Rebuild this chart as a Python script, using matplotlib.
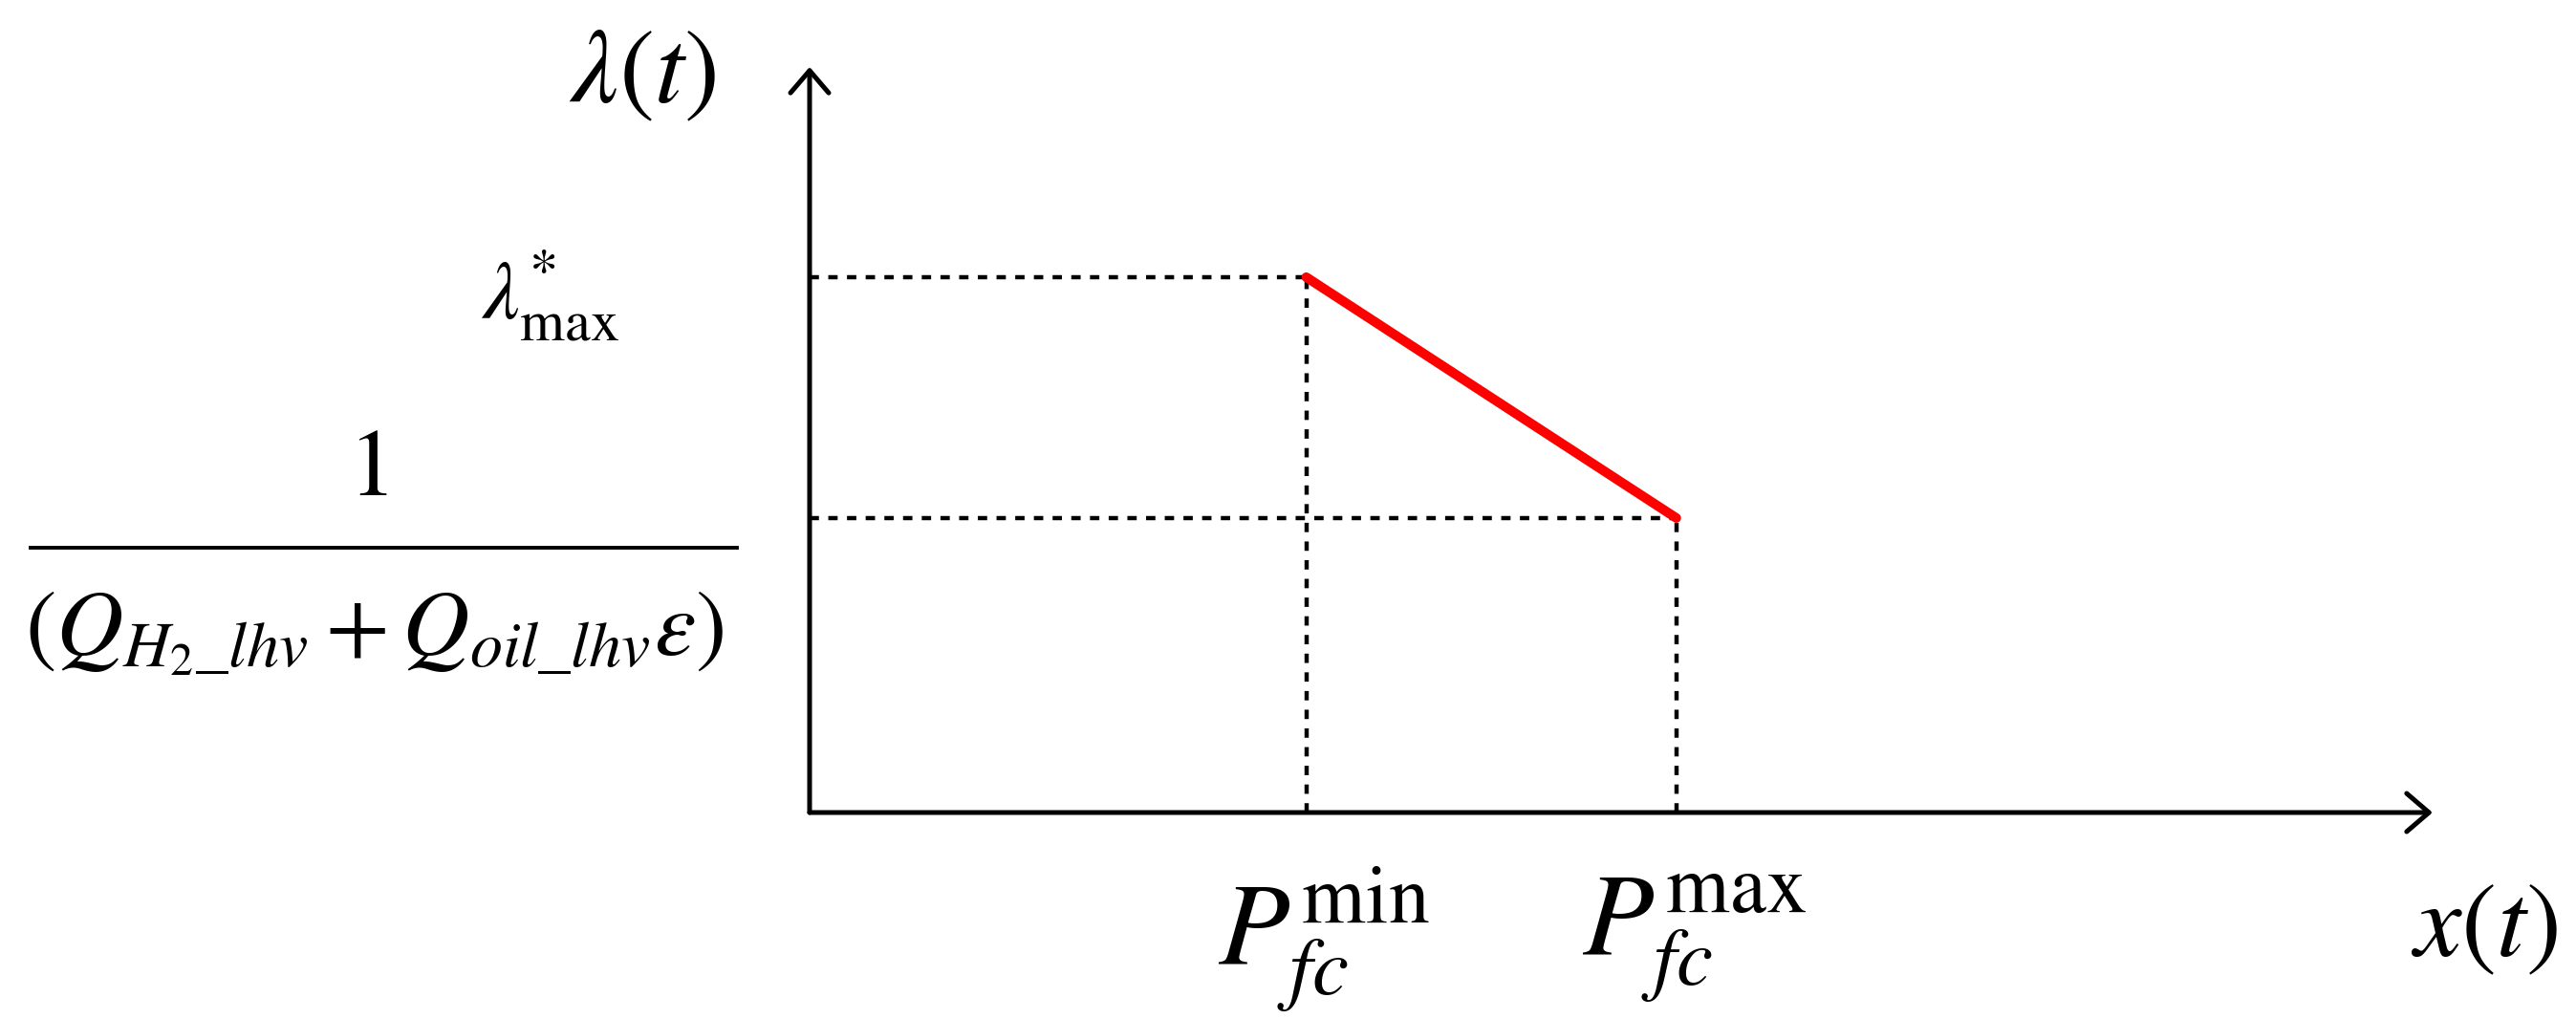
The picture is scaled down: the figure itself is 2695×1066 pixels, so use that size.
import matplotlib
matplotlib.use("Agg")
import matplotlib.pyplot as plt
from matplotlib.lines import Line2D
from matplotlib.transforms import blended_transform_factory

plt.rcParams["mathtext.fontset"] = "stix"
plt.rcParams["font.family"] = ["STIXGeneral", "DejaVu Serif"]

# breakpoints of the price curve (axes run 0..1)
p_fc = [0.306, 0.534]            # P_fc^min, P_fc^max
lam = [0.718, 0.395]             # lambda*_max, 1/(Q_H2 + Q_oil eps)
x_labels = [r"$P_{fc}^{\min}$", r"$P_{fc}^{\max}$"]
lam_max_label = r"$\lambda^{*}_{\max}$"
frac_num = r"$1$"
frac_den = r"$(Q_{H_2\_lhv}+Q_{oil\_lhv}\varepsilon)$"

W, H = 2695, 1066
fig = plt.figure(figsize=(W / 100, H / 100), dpi=100)
ax = fig.add_axes([847 / W, 1 - 850 / H, 1698 / W, 780 / H])
ax.set_xlim(0, 1)
ax.set_ylim(0, 1)
ax.axis("off")

# arrowed axes
arrow = dict(arrowstyle="->, head_length=0.7, head_width=0.6", lw=3.6,
             color="black", mutation_scale=24, shrinkA=0, shrinkB=0)
ax.annotate("", xy=(1, 0), xytext=(0, 0), xycoords="axes fraction", arrowprops=arrow)
ax.annotate("", xy=(0, 1), xytext=(0, 0), xycoords="axes fraction", arrowprops=arrow)

# dotted guides
dash = dict(color="black", lw=3.2, ls=(0, (2.2, 2.2)), clip_on=False)
ax.plot([0, p_fc[0]], [lam[0], lam[0]], **dash)
ax.plot([0, p_fc[1]], [lam[1], lam[1]], **dash)
ax.plot([p_fc[0], p_fc[0]], [0, lam[0]], **dash)
ax.plot([p_fc[1], p_fc[1]], [0, lam[1]], **dash)

# price curve
ax.plot(p_fc, lam, color="#ff0000", lw=7.2, solid_capstyle="round", zorder=5)

# labels
for xv, lab in zip(p_fc, x_labels):
    ax.text(xv + 0.011, -0.17, lab, fontsize=88, ha="center", va="center")
ax.text(1.032, -0.16, r"$x(t)$", fontsize=80, ha="center", va="center")
ax.text(-0.103, 0.985, r"$\lambda(t)$", fontsize=80, ha="center", va="center")

ymix = blended_transform_factory(ax.transAxes, ax.transData)
ax.text(-0.16, lam[0] - 0.025, lam_max_label, fontsize=62, ha="center",
        va="center", transform=ymix)

# fraction label for the lower breakpoint
bar_y = lam[1] - 0.04
ax.text(-0.272, bar_y + 0.1, frac_num, fontsize=72, ha="center", va="center",
        transform=ymix)
ax.text(-0.268, bar_y - 0.115, frac_den, fontsize=70, ha="center", va="center",
        transform=ymix)
ax.add_line(Line2D([-0.4798, -0.0447], [bar_y, bar_y], color="black", lw=2.8,
                   transform=ymix, clip_on=False))

fig.savefig("out.png", dpi=100, facecolor="white")
